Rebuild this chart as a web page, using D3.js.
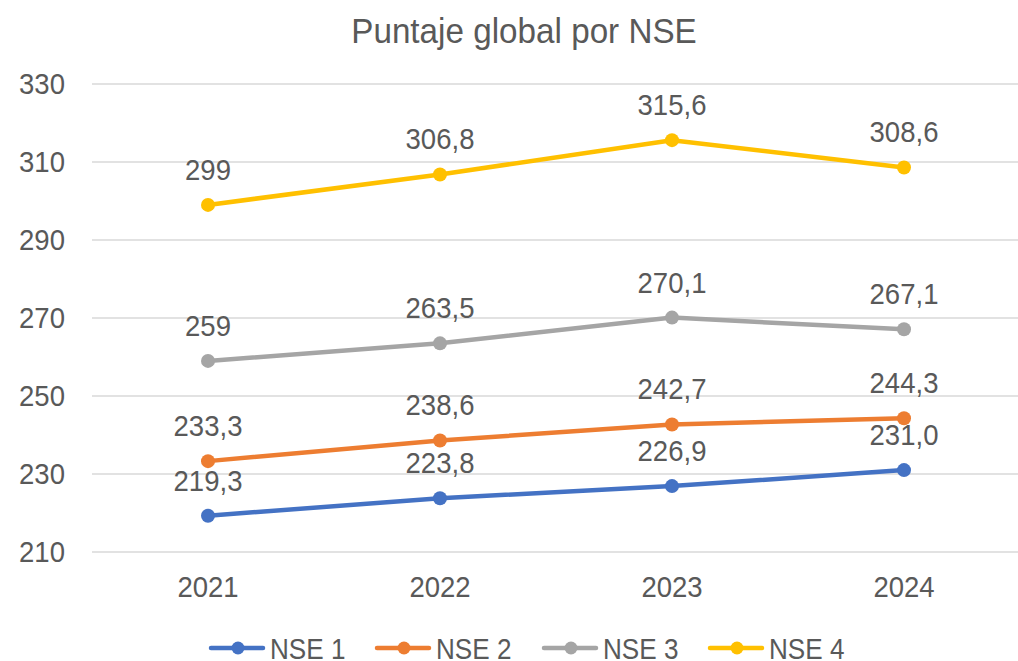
<!DOCTYPE html>
<html>
<head>
<meta charset="utf-8">
<script src="https://cdn.jsdelivr.net/npm/d3@7"></script>
<style>
  body { margin: 0; background: #fff; }
  svg text { font-family: "Liberation Sans Narrow", "Arial Narrow", "Liberation Sans", sans-serif; fill: #595959; }
</style>
</head>
<body>
<div class="chart"></div>
<script>
// data
const years = ['2021', '2022', '2023', '2024'];
const series = ['NSE 1', 'NSE 2', 'NSE 3', 'NSE 4'];
const nse1 = [219.3, 223.8, 226.9, 231.0];
const nse2 = [233.3, 238.6, 242.7, 244.3];
const nse3 = [259, 263.5, 270.1, 267.1];
const nse4 = [299, 306.8, 315.6, 308.6];
const labels1 = ['219,3', '223,8', '226,9', '231,0'];
const labels2 = ['233,3', '238,6', '242,7', '244,3'];
const labels3 = ['259', '263,5', '270,1', '267,1'];
const labels4 = ['299', '306,8', '315,6', '308,6'];
const yTicks = [210, 230, 250, 270, 290, 310, 330];
const colors = ['#4472C4', '#ED7D31', '#A5A5A5', '#FFC000'];

const width = 1018, height = 661;
const margin = {top: 84, right: -2, bottom: 109, left: 92};
const squeeze = 0.95; // the original font is a narrow one

const data = [
  {name: series[0], values: nse1, labels: labels1},
  {name: series[1], values: nse2, labels: labels2},
  {name: series[2], values: nse3, labels: labels3},
  {name: series[3], values: nse4, labels: labels4}
];

const svg = d3.select('.chart')
  .append('svg')
  .attr('width', width)
  .attr('height', height);

const xScale = d3.scalePoint()
  .domain(years)
  .range([margin.left, width - margin.right])
  .padding(0.5);

const yScale = d3.scaleLinear()
  .domain([210, 330])
  .range([height - margin.bottom, margin.top]);

const colorScale = d3.scaleOrdinal(series, colors);

// squeezed text helper
function put(sel, x, y, sx) {
  return sel.attr('transform', (d, i) =>
    'translate(' + x(d, i) + ',' + y(d, i) + ') scale(' + sx + ',1)');
}

// gridlines
svg.append('g')
  .selectAll('line')
  .data(yTicks)
  .enter()
  .append('line')
  .attr('x1', margin.left)
  .attr('x2', width - margin.right)
  .attr('y1', d => yScale(d))
  .attr('y2', d => yScale(d))
  .attr('stroke', '#d9d9d9')
  .attr('stroke-width', 1.3);

// y tick labels
svg.append('g')
  .selectAll('text')
  .data(yTicks)
  .enter()
  .append('text')
  .attr('text-anchor', 'end')
  .attr('font-size', 29)
  .call(put, () => 65, d => yScale(d) + 10, squeeze)
  .text(d => d);

// x tick labels
svg.append('g')
  .selectAll('text')
  .data(years)
  .enter()
  .append('text')
  .attr('text-anchor', 'middle')
  .attr('font-size', 29)
  .call(put, d => xScale(d), () => 597, squeeze)
  .text(d => d);

const line = d3.line()
  .x((d, i) => xScale(years[i]))
  .y(d => yScale(d));

const groups = svg.selectAll('.series')
  .data(data)
  .enter()
  .append('g')
  .attr('class', 'series');

groups.append('path')
  .attr('d', d => line(d.values))
  .attr('fill', 'none')
  .attr('stroke', d => colorScale(d.name))
  .attr('stroke-width', 4.5)
  .attr('stroke-linejoin', 'round')
  .attr('stroke-linecap', 'round');

groups.selectAll('circle')
  .data(d => d.values.map((v, i) => ({v, i, name: d.name})))
  .enter()
  .append('circle')
  .attr('cx', d => xScale(years[d.i]))
  .attr('cy', d => yScale(d.v))
  .attr('r', 7)
  .attr('fill', d => colorScale(d.name));

groups.selectAll('.lbl')
  .data(d => d.labels.map((t, i) => ({t, i, v: d.values[i]})))
  .enter()
  .append('text')
  .attr('class', 'lbl')
  .attr('text-anchor', 'middle')
  .attr('font-size', 29)
  .call(put, d => xScale(years[d.i]), d => yScale(d.v) - 25, squeeze)
  .text(d => d.t);

// title
svg.append('text')
  .datum('Puntaje global por NSE')
  .attr('text-anchor', 'middle')
  .attr('font-size', 35)
  .call(put, () => 524, () => 43, squeeze)
  .text(d => d);

// legend
const legendX = [209, 375, 542, 708];
const legend = svg.selectAll('.legend')
  .data(series)
  .enter()
  .append('g')
  .attr('transform', (d, i) => 'translate(' + legendX[i] + ',648)');

legend.append('line')
  .attr('x1', 2).attr('x2', 54)
  .attr('stroke', d => colorScale(d))
  .attr('stroke-width', 4.5)
  .attr('stroke-linecap', 'round');
legend.append('circle')
  .attr('cx', 29)
  .attr('r', 6.5)
  .attr('fill', d => colorScale(d));
legend.append('text')
  .attr('font-size', 29)
  .call(put, () => 61, () => 10.5, 0.9)
  .text(d => d);
</script>
</body>
</html>
